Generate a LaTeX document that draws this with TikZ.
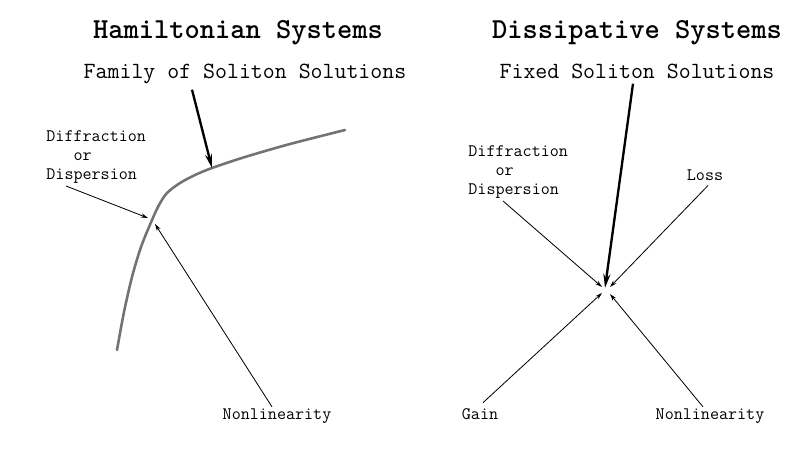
\documentclass[tikz,border=0pt]{standalone}
\usetikzlibrary{arrows.meta}
\begin{document}
\begin{tikzpicture}[x=0.03cm, y=-0.03cm,
		title/.style={font=\ttfamily\bfseries\fontsize{24.8}{28}\selectfont, inner sep=1pt, anchor=base},
		sub/.style={font=\ttfamily\fontsize{19.8}{23}\selectfont, inner sep=1pt, anchor=base},
		lbl/.style={font=\ttfamily\fontsize{15}{16.4}\selectfont, inner sep=1pt},
		force/.style={line width=0.7pt, -{Stealth[length=6pt,width=3.6pt]}},
		heavy/.style={line width=2pt, -{Stealth[length=12pt,width=6pt]}}
	]
		\useasboundingbox (0,0) rectangle (788,466);

		% Hamiltonian side
		\node[title] (ham) at (238,38) {Hamiltonian Systems};
		\node[sub] (fam) at (245,78) {Family of Soliton Solutions};
		\node[lbl, align=left, anchor=north west] (ldiff) at (45,129) {Diffraction\\\phantom{Dif}or\\Dispersion};
		\node[lbl, anchor=base] (lnon) at (277,419) {Nonlinearity};

		\draw[line width=2.2pt, black!55, line cap=round]
			plot[smooth, tension=0.5] coordinates {(117,350) (124,312) (132,277) (141,247) (152,220) (159,205)
				(167,193) (180,183) (195,175) (212,168) (245,157) (290,144) (345,130)};
		\coordinate (bend) at (212,168);
		\coordinate (cdiff) at (148,218);
		\coordinate (cnon) at (155,224);

		\draw[heavy] ([shift={(-53,5)}]fam.south) -- (bend);
		\draw[force] ([shift={(21,1)}]ldiff.south west) -- (cdiff);
		\draw[force] ([shift={(-5,0)}]lnon.north) -- (cnon);

		% Dissipative side
		\node[title] (dis) at (637,38) {Dissipative Systems};
		\node[sub] (fix) at (637,78) {Fixed Soliton Solutions};
		\node[lbl, align=left, anchor=north west] (rdiff) at (467,144) {Diffraction\\\phantom{Dif}or\\Dispersion};
		\node[lbl, anchor=base] (loss) at (705,180) {Loss};
		\node[lbl, anchor=base] (gain) at (480,419) {Gain};
		\node[lbl, anchor=base] (rnon) at (710,419) {Nonlinearity};

		\coordinate (meet) at (606,290);

		\draw[heavy] ([shift={(-4,4)}]fix.south) -- ([shift={(-1,-2)}]meet);
		\draw[force] ([shift={(36,1)}]rdiff.south west) -- ([shift={(-4,-3)}]meet);
		\draw[force] ([shift={(3,4)}]loss.south) -- ([shift={(4,-3)}]meet);
		\draw[force] ([shift={(3,-4)}]gain.north) -- ([shift={(-4,3)}]meet);
		\draw[force] ([shift={(-7,0)}]rnon.north) -- ([shift={(4,4)}]meet);
	\end{tikzpicture}
\end{document}
